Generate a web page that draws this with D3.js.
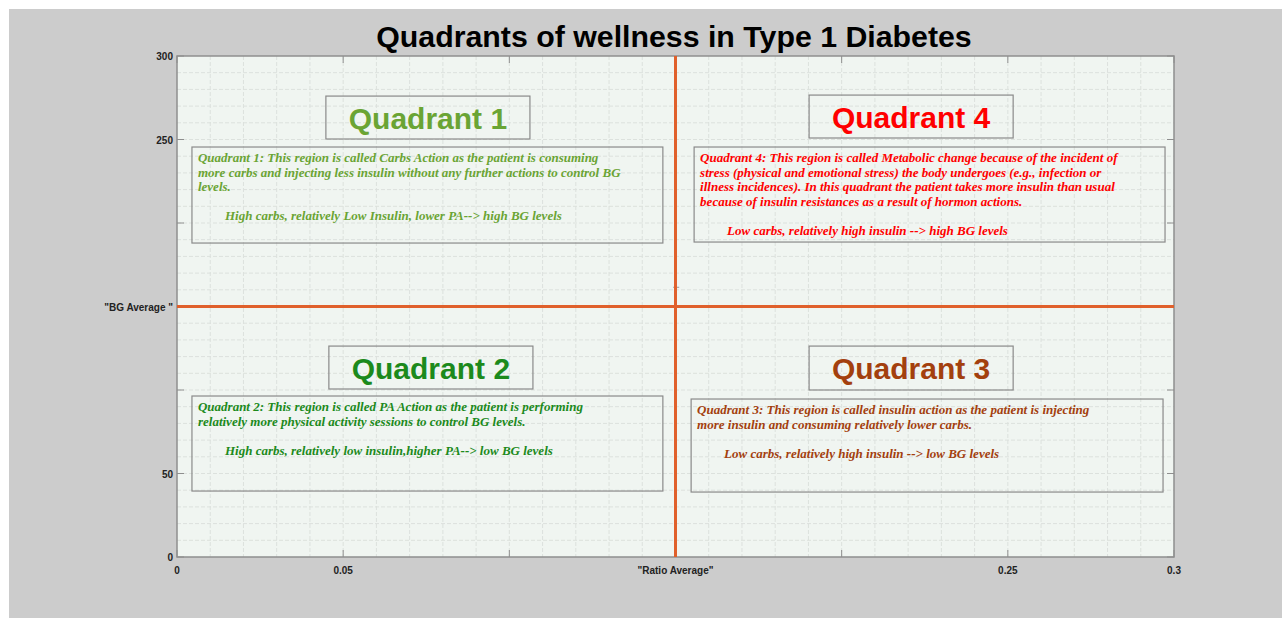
<!DOCTYPE html>
<html>
<head>
<meta charset="utf-8">
<script src="https://cdn.jsdelivr.net/npm/d3@7"></script>
<style>
body{margin:0;background:#fff}
svg{display:block}
</style>
</head>
<body>
<div id="chart"></div>
<script>
// axis data
var xTicks = [0, 0.05, 0.15, 0.25, 0.3]
var xTickLabels = ['0', '0.05', '"Ratio Average"', '0.25', '0.3']
var yTicks = [0, 50, 150, 250, 300]
var yTickLabels = ['0', '50', '"BG Average "', '250', '300']
var xMajor = [0, 0.05, 0.1, 0.15, 0.2, 0.25, 0.3]
var yMajor = [0, 50, 100, 150, 200, 250, 300]
var divider = [0.15, 150]

// quadrants
var quadNames = ['Quadrant 1', 'Quadrant 4', 'Quadrant 2', 'Quadrant 3']
var quadColors = ['#6AA434', '#FF0000', '#1C8A1C', '#A3400E']
var quadText = [
	['Quadrant 1: This region is called Carbs Action as the patient is consuming',
	 'more carbs and injecting less insulin without any further actions to control BG',
	 'levels.'],
	['Quadrant 4: This region is called Metabolic change because of the incident of',
	 'stress (physical and emotional stress) the body undergoes (e.g., infection or',
	 'illness incidences). In this quadrant the patient takes more insulin than usual',
	 'because of insulin resistances as a result of hormon actions.'],
	['Quadrant 2: This region is called PA Action as the patient is performing',
	 'relatively more physical activity sessions to control BG levels.'],
	['Quadrant 3: This region is called insulin action as the patient is injecting',
	 'more insulin and consuming relatively lower carbs.']
]
var quadSummary = [
	'High carbs, relatively Low Insulin, lower PA--> high BG levels',
	'Low carbs, relatively high insulin --> high BG levels',
	'High carbs, relatively low insulin,higher PA--> low BG levels',
	'Low carbs, relatively high insulin --> low BG levels'
]

// annotation boxes in data units [x0, x1, yTop, yBottom]
var titleBoxes = [[0.0448, 0.1062, 276, 250.3], [0.1902, 0.2516, 276.6, 250.9],
	[0.0457, 0.1071, 126.3, 100.6], [0.1902, 0.2516, 126.3, 100]]
var textBoxes = [[0.0045, 0.1462, 245.5, 188], [0.1556, 0.2973, 245.5, 188.6],
	[0.0045, 0.1462, 96.4, 39.5], [0.1547, 0.2967, 94.6, 38.9]]

var W = 1282, H = 618
var m = {left: 177, top: 56, right: 1174, bottom: 557}

var svg = d3.select('#chart').append('svg')
	.attr('width', W).attr('height', H)

svg.append('rect').attr('x', 9).attr('y', 9).attr('width', W - 9).attr('height', H - 9)
	.attr('fill', '#CCCCCC')
svg.append('text').attr('x', 27).attr('y', -3).text('y')
	.style('font', '12px "Liberation Sans"')

var x = d3.scaleLinear().domain([0, 0.3]).range([m.left, m.right])
var y = d3.scaleLinear().domain([0, 300]).range([m.bottom, m.top])

svg.append('rect').attr('x', m.left).attr('y', m.top)
	.attr('width', m.right - m.left).attr('height', m.bottom - m.top)
	.attr('fill', '#F0F5F1')

// grid
var grid = svg.append('g')
grid.selectAll('line.gx').data(d3.range(1, 30).map(i => i / 100)).join('line')
	.attr('x1', d => x(d)).attr('x2', d => x(d)).attr('y1', m.top).attr('y2', m.bottom)
grid.selectAll('line.gy').data(d3.range(10, 300, 10)).join('line')
	.attr('class', 'gy')
	.attr('y1', d => y(d)).attr('y2', d => y(d)).attr('x1', m.left).attr('x2', m.right)
grid.selectAll('line').attr('stroke', '#DCE1DD').attr('stroke-width', 1)
	.attr('stroke-dasharray', '4,2')

// axes with inward ticks on all sides
var tickLen = 7
var ax = svg.append('g').attr('stroke', '#8E8E8E').attr('stroke-width', 1)
xMajor.forEach(function(v) {
	ax.append('line').attr('x1', x(v)).attr('x2', x(v)).attr('y1', m.bottom).attr('y2', m.bottom - tickLen)
	ax.append('line').attr('x1', x(v)).attr('x2', x(v)).attr('y1', m.top).attr('y2', m.top + tickLen)
})
yMajor.forEach(function(v) {
	ax.append('line').attr('y1', y(v)).attr('y2', y(v)).attr('x1', m.left).attr('x2', m.left + tickLen)
	ax.append('line').attr('y1', y(v)).attr('y2', y(v)).attr('x1', m.right).attr('x2', m.right - tickLen)
})
svg.append('rect').attr('x', m.left).attr('y', m.top)
	.attr('width', m.right - m.left).attr('height', m.bottom - m.top)
	.attr('fill', 'none').attr('stroke', '#8E8E8E').attr('stroke-width', 1.5)

svg.append('line').attr('x1', x(0.1493)).attr('x2', x(0.1493) + 6).attr('y1', y(161.5)).attr('y2', y(161.5))
	.attr('stroke', '#9a9a9a').attr('stroke-width', 1)

// tick labels
svg.append('g').selectAll('text').data(xTicks).join('text')
	.attr('x', d => x(d)).attr('y', 574)
	.attr('text-anchor', 'middle')
	.text((d, i) => xTickLabels[i])
svg.append('g').selectAll('text').data(yTicks).join('text')
	.attr('x', m.left - 4).attr('y', d => y(d) + 4)
	.attr('text-anchor', 'end')
	.text((d, i) => yTickLabels[i])
svg.selectAll('g text').style('font', 'bold 10px "Liberation Sans", Arial, sans-serif')
	.attr('fill', '#222')

// divider lines
svg.append('line').attr('x1', x(divider[0])).attr('x2', x(divider[0]))
	.attr('y1', m.top).attr('y2', m.bottom)
	.attr('stroke', '#E0602C').attr('stroke-width', 3)
svg.append('line').attr('y1', y(divider[1])).attr('y2', y(divider[1]))
	.attr('x1', m.left).attr('x2', m.right)
	.attr('stroke', '#E0602C').attr('stroke-width', 3)

// title
svg.append('text').attr('x', 674).attr('y', 47).attr('text-anchor', 'middle')
	.style('font', 'bold 30.3px "Liberation Sans", Arial, sans-serif')
	.text('Quadrants of wellness in Type 1 Diabetes')

// quadrant annotations
var descFont = 'italic bold 13px "Liberation Serif", "DejaVu Serif", serif'
quadNames.forEach(function(name, i) {
	var tb = titleBoxes[i], db = textBoxes[i]
	var g = svg.append('g')
	g.append('rect').attr('x', x(tb[0])).attr('y', y(tb[2]))
		.attr('width', x(tb[1]) - x(tb[0])).attr('height', y(tb[3]) - y(tb[2]))
		.attr('fill', 'none').attr('stroke', '#8A8A8A').attr('stroke-width', 1.2)
	g.append('text').attr('x', (x(tb[0]) + x(tb[1])) / 2).attr('y', (y(tb[2]) + y(tb[3])) / 2 + 11)
		.attr('text-anchor', 'middle').attr('fill', quadColors[i])
		.style('font', 'bold 30px "Liberation Sans", Arial, sans-serif')
		.text(name)
	g.append('rect').attr('x', x(db[0])).attr('y', y(db[2]))
		.attr('width', x(db[1]) - x(db[0])).attr('height', y(db[3]) - y(db[2]))
		.attr('fill', 'none').attr('stroke', '#8A8A8A').attr('stroke-width', 1.2)
	var tx = x(db[0]) + 6, ty = y(db[2]) + 15
	var lines = quadText[i]
	lines.forEach(function(l, j) {
		g.append('text').attr('x', tx).attr('y', ty + j * 14.5)
			.attr('fill', quadColors[i])
			.style('font', descFont)
			.text(l)
	})
	g.append('text').attr('x', tx + 27).attr('y', ty + (lines.length + 1) * 14.5)
		.attr('fill', quadColors[i])
		.style('font', descFont)
		.text(quadSummary[i])
})
</script>
</body>
</html>
